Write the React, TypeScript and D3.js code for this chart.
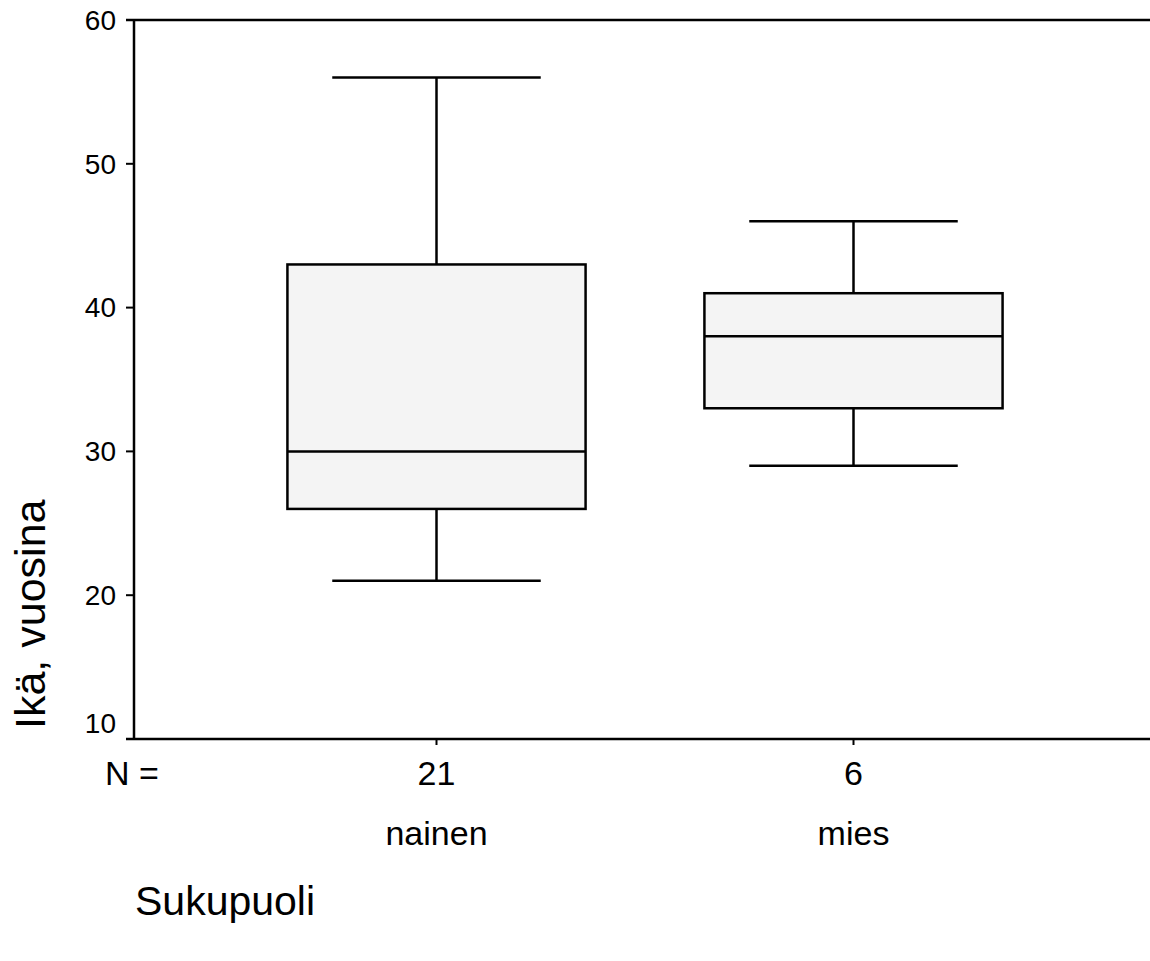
import React from "react";
import * as d3 from "d3";

const categories = ["nainen", "mies"];
const counts = [21, 6];
const whiskerLow = [21, 29];
const q1 = [26, 33];
const median = [30, 38];
const q3 = [43, 41];
const whiskerHigh = [56, 46];
const yTicks = [10, 20, 30, 40, 50, 60];

const W = 1150;
const H = 961;
const left = 134;
const top = 20;
const bottom = 739;
const FONT = "'Liberation Sans', Arial, sans-serif";
const SW = 2.5;

export default function App() {
  const y = d3.scaleLinear().domain([10, 60]).range([bottom, top]);
  const x = d3.scaleBand<string>().domain(categories).range([228, 1062]).padding(0);
  const boxW = x.bandwidth() * 0.715;
  const capW = x.bandwidth() * 0.5;

  return (
    <svg width={W} height={H} style={{ position: "absolute", left: 0, top: 0, background: "#fff" }} fontFamily={FONT}>
      {/* axes */}
      <line x1={126} x2={W} y1={top} y2={top} stroke="#000" strokeWidth={SW} />
      <line x1={126} x2={W} y1={bottom} y2={bottom} stroke="#000" strokeWidth={SW} />
      <line x1={left} x2={left} y1={top} y2={bottom} stroke="#000" strokeWidth={SW} />
      {yTicks.map((t, i) => (
        <g key={t}>
          <line x1={126} x2={left} y1={y(t)} y2={y(t)} stroke="#000" strokeWidth={2} />
          <text x={116} y={y(t) - (i === 0 ? 16 : 0)} dy="0.35em" textAnchor="end" fontSize={28}>{t}</text>
        </g>
      ))}
      {categories.map((c, i) => {
        const cx = (x(c) as number) + x.bandwidth() / 2;
        return (
          <g key={c}>
            <line x1={cx} x2={cx} y1={bottom} y2={bottom + 6} stroke="#000" strokeWidth={2} />
            <text x={cx} y={785} textAnchor="middle" fontSize={34}>{counts[i]}</text>
            <text x={cx} y={845} textAnchor="middle" fontSize={34}>{c}</text>
            <line x1={cx} x2={cx} y1={y(whiskerHigh[i])} y2={y(q3[i])} stroke="#000" strokeWidth={SW} />
            <line x1={cx} x2={cx} y1={y(q1[i])} y2={y(whiskerLow[i])} stroke="#000" strokeWidth={SW} />
            <line x1={cx - capW / 2} x2={cx + capW / 2} y1={y(whiskerHigh[i])} y2={y(whiskerHigh[i])} stroke="#000" strokeWidth={SW} />
            <line x1={cx - capW / 2} x2={cx + capW / 2} y1={y(whiskerLow[i])} y2={y(whiskerLow[i])} stroke="#000" strokeWidth={SW} />
            <rect x={cx - boxW / 2} y={y(q3[i])} width={boxW} height={y(q1[i]) - y(q3[i])} fill="#f4f4f4" stroke="#000" strokeWidth={SW} />
            <line x1={cx - boxW / 2} x2={cx + boxW / 2} y1={y(median[i])} y2={y(median[i])} stroke="#000" strokeWidth={SW} />
          </g>
        );
      })}
      <text x={105} y={785} fontSize={34}>N =</text>
      <text x={135} y={915} fontSize={41}>Sukupuoli</text>
      <text transform={`translate(45, 729) rotate(-90)`} fontSize={43}>Ikä, vuosina</text>
    </svg>
  );
}
